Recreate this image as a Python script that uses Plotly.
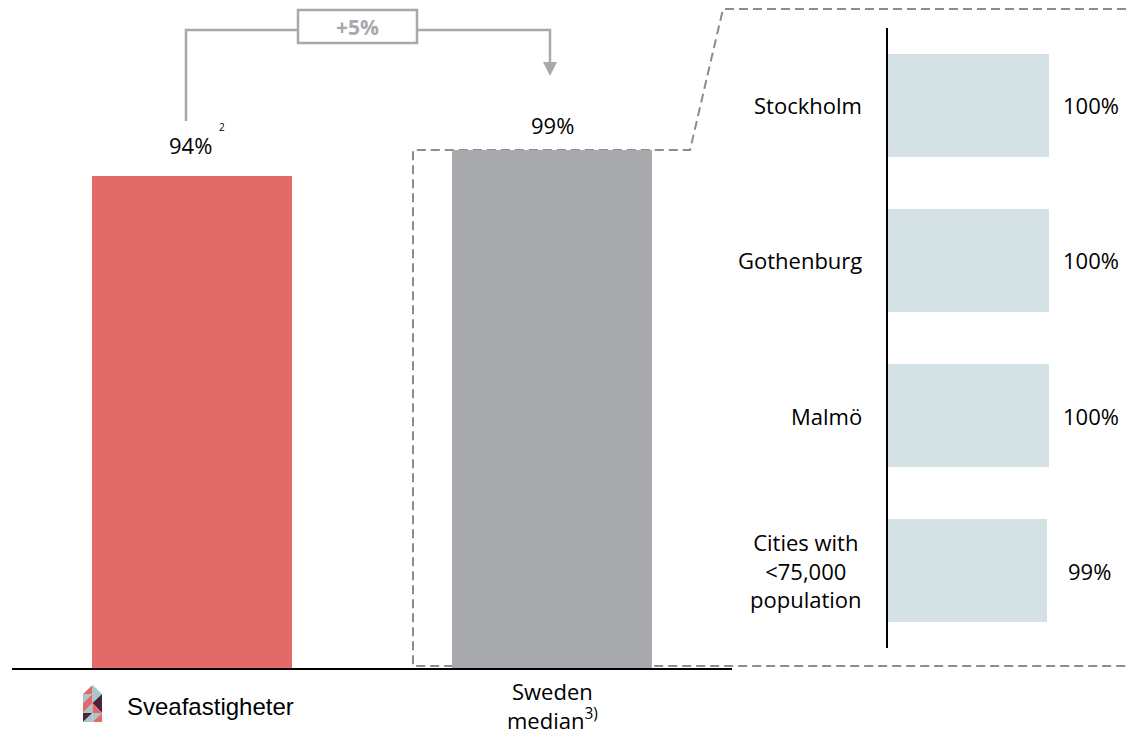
import plotly.graph_objects as go

# the page body has an 8px margin, so the figure is placed at (8, 8)
OFF = 8
W, H = 1127, 727


def X(p):
    return (p - OFF) / W


def Y(p):
    return 1 - (p - OFF) / H


# ---------------- data ----------------
left_categories = ["Sveafastigheter", "Sweden median"]
left_values = [94, 99]
left_labels = ["94%", "99%"]
right_categories = ["Stockholm", "Gothenburg", "Malmö", "Cities with<br><75,000<br>population"]
right_values = [100, 100, 100, 99]
right_labels = ["100%", "100%", "100%", "99%"]
change_label = "+5%"

RED = "#E26B68"
GREY = "#A7A9AC"
LIGHT = "#D4E1E5"
DASH = "#8C8C8C"
FONT = "Open Sans"
FS = 22

fig = go.Figure()
fig.add_trace(go.Bar(
    x=left_categories, y=left_values, width=0.556,
    marker=dict(color=[RED, GREY], line=dict(width=0)),
    xaxis="x", yaxis="y", hoverinfo="skip",
))
fig.add_trace(go.Bar(
    y=right_categories, x=right_values, orientation="h", width=0.665,
    marker=dict(color=LIGHT, line=dict(width=0)),
    xaxis="x2", yaxis="y2", hoverinfo="skip",
))

annotations = []
# left value labels
yshifts = [31, 25]
xshifts = [-2, 0]
for cat, v, lab, ys, xs in zip(left_categories, left_values, left_labels, yshifts, xshifts):
    annotations.append(dict(x=cat, y=v, xref="x", yref="y", text=lab, showarrow=False,
                            yanchor="middle", yshift=ys, xshift=xs,
                            font=dict(size=FS, color="black", family=FONT)))
annotations.append(dict(x=X(217), y=Y(127), xref="paper", yref="paper", text="2", showarrow=False,
                        yanchor="middle", font=dict(size=10, color="black", family=FONT)))
# right category labels & values
for cat, v, lab in zip(right_categories, right_values, right_labels):
    annotations.append(dict(x=X(864), y=cat, xref="paper", yref="y2", text=cat, showarrow=False,
                            xanchor="right", align="center",
                            font=dict(size=FS, color="black", family=FONT)))
    annotations.append(dict(x=v, y=cat, xref="x2", yref="y2", text=lab, showarrow=False,
                            xanchor="center", xshift=42,
                            font=dict(size=FS, color="black", family=FONT)))
# x labels
annotations.append(dict(x=X(125), y=Y(706), xref="paper", yref="paper", text=left_categories[0],
                        showarrow=False, xanchor="left", yanchor="middle",
                        font=dict(size=24, color="black", family="Liberation Sans")))
annotations.append(dict(x=left_categories[1], y=Y(705), xref="x", yref="paper",
                        text="Sweden<br>median<sup>3)</sup>", showarrow=False, yanchor="middle",
                        font=dict(size=FS, color="black", family=FONT)))
# change label
annotations.append(dict(x=X(357.5), y=Y(27), xref="paper", yref="paper",
                        text=change_label, showarrow=False, xanchor="center",
                        yanchor="middle", font=dict(size=21, color=GREY, family=FONT, weight="bold")))


def pth(points, close=False):
    s = "M " + " L ".join(f"{X(a):.5f},{Y(b):.5f}" for a, b in points)
    return s + (" Z" if close else "")


shapes = []
# dashed zoom outline
shapes.append(dict(type="path", xref="paper", yref="paper", layer="below",
                   path=pth([(1140, 9), (723, 9), (690, 150), (413, 150), (413, 666), (1140, 666)]),
                   line=dict(color=DASH, width=2, dash="9px,5px")))
# bracket
shapes.append(dict(type="path", xref="paper", yref="paper",
                   path=pth([(186, 121), (186, 30), (298, 30)]), line=dict(color=GREY, width=2.5)))
shapes.append(dict(type="rect", xref="paper", yref="paper", x0=X(298), x1=X(417), y0=Y(43), y1=Y(10),
                   line=dict(color=GREY, width=2.5)))
shapes.append(dict(type="path", xref="paper", yref="paper",
                   path=pth([(417, 30), (550, 30), (550, 63)]), line=dict(color=GREY, width=2.5)))
shapes.append(dict(type="path", xref="paper", yref="paper",
                   path=pth([(543, 62), (557, 62), (550, 76)], close=True),
                   line=dict(width=0), fillcolor=GREY))
# logo
LR, LB, LD = "#E06B67", "#A9C6CC", "#4B2342"
logo = [
    ([(92.5, 685), (83, 694), (92.5, 694)], LR),
    ([(92.5, 685), (102, 694), (92.5, 694)], LB),
    ([(83, 694), (92.5, 694), (83, 703)], LB),
    ([(92.5, 694), (83, 703), (92.5, 703)], LR),
    ([(92.5, 694), (102, 694), (92.5, 703)], LB),
    ([(102, 694), (102, 703), (92.5, 703)], LD),
    ([(83, 703), (92.5, 703), (83, 713)], LR),
    ([(92.5, 703), (83, 713), (92.5, 713)], LB),
    ([(92.5, 703), (102, 703), (102, 713)], LD),
    ([(92.5, 703), (92.5, 713), (102, 713)], LR),
    ([(83, 713), (92.5, 713), (83, 722)], LD),
    ([(92.5, 713), (83, 722), (92.5, 722)], LB),
    ([(92.5, 713), (102, 713), (92.5, 722)], LB),
    ([(102, 713), (102, 722), (92.5, 722)], LR),
]
for pts, col in logo:
    shapes.append(dict(type="path", xref="paper", yref="paper", path=pth(pts, close=True),
                       line=dict(width=0), fillcolor=col))

fig.update_layout(
    width=W, height=H, margin=dict(l=0, r=0, t=0, b=0),
    paper_bgcolor="white", plot_bgcolor="rgba(0,0,0,0)", showlegend=False,
    xaxis=dict(domain=[X(12), X(732)], range=[-0.5, 1.5], showline=True, linecolor="black", linewidth=1.5,
               showticklabels=False, ticks="", showgrid=False, zeroline=False, anchor="y", fixedrange=True),
    yaxis=dict(domain=[Y(668), Y(145)], range=[0, 100], visible=False, fixedrange=True),
    xaxis2=dict(domain=[X(888), X(1049)], range=[0, 100], visible=False, anchor="y2", fixedrange=True),
    yaxis2=dict(domain=[Y(648), Y(28)], range=[3.5, -0.5], showline=True, linecolor="black", linewidth=1.5,
                showticklabels=False, ticks="", showgrid=False, zeroline=False, anchor="x2", fixedrange=True),
    annotations=annotations, shapes=shapes, bargap=0,
)

fig.write_html("out.html")
